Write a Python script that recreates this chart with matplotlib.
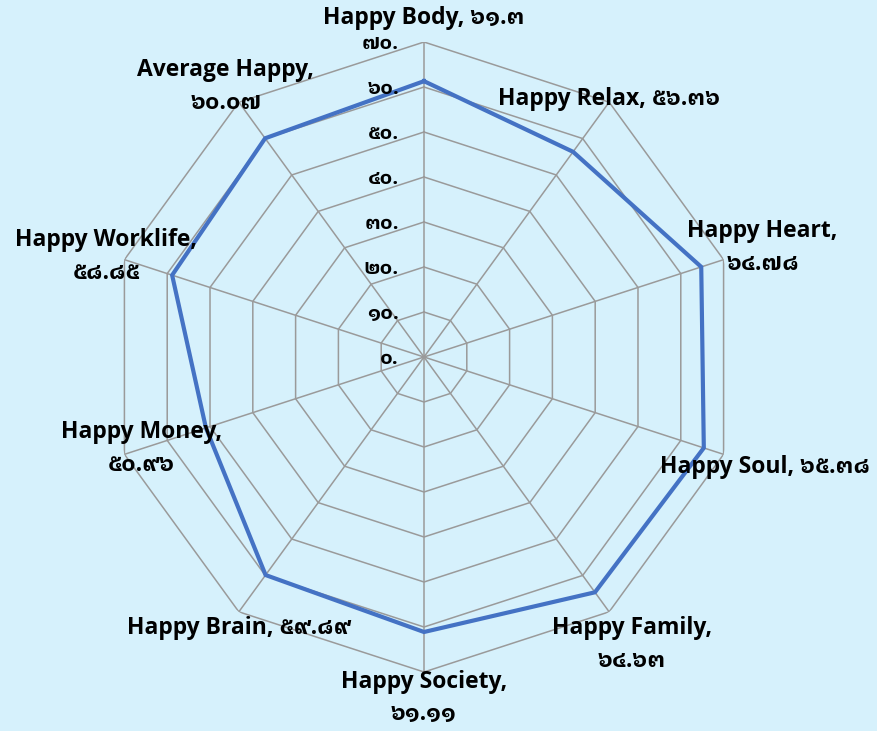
import matplotlib
matplotlib.use("Agg")
import matplotlib.pyplot as plt
import numpy as np

categories = ["Happy Body", "Happy Relax", "Happy Heart", "Happy Soul", "Happy Family",
              "Happy Society", "Happy Brain", "Happy Money", "Happy Worklife", "Average Happy"]
values = [61.3, 56.36, 64.78, 65.38, 64.63, 61.11, 59.89, 50.96, 58.85, 60.07]
ticks = [0, 10, 20, 30, 40, 50, 60, 70]
two_line = [False, False, True, False, True, True, False, True, True, True]

THAI = str.maketrans("0123456789", "๐๑๒๓๔๕๖๗๘๙")
def thai(s):
    return s.translate(THAI)

FONT = ["Open Sans", "IBM Plex Sans Thai Looped", "DejaVu Sans"]
BG = "#D6F1FC"
GRID = "#9A9A9A"
LINE = "#4472C4"

W, H = 878, 731
cx, cy, R = 424, 357, 315
fig = plt.figure(figsize=(W / 100, H / 100), dpi=100, facecolor=BG)
ax = fig.add_axes([(cx - R) / W, (H - cy - R) / H, 2 * R / W, 2 * R / H], projection="polar")
ax.set_facecolor("none")
ax.set_theta_zero_location("N")
ax.set_theta_direction(-1)
ax.set_ylim(0, ticks[-1])
ax.grid(False)
ax.spines["polar"].set_visible(False)
ax.set_xticks([])
ax.set_yticks([])

n = len(categories)
theta = np.arange(n) * 2 * np.pi / n
theta_c = np.append(theta, theta[0])

for r in ticks[1:]:
    ax.plot(theta_c, [r] * (n + 1), color=GRID, lw=1.1, zorder=1)
for t in theta:
    ax.plot([t, t], [0, ticks[-1]], color=GRID, lw=1.1, zorder=1)

vals_c = values + values[:1]
ax.plot(theta_c, vals_c, color=LINE, lw=3, zorder=3, solid_joinstyle="miter")

for r in ticks:
    ax.annotate(thai(f"{r}."), xy=(0, r), xytext=(-25, -2), textcoords="offset pixels",
                ha="right", va="center", fontsize=14.5, fontweight="bold",
                family=FONT, color="#000000", zorder=4)

offsets = [(0, 24), (0, 3), (39, 12), (41, -13), (23, -33),
           (0, -26), (0, -16), (17, 6), (-18, 3), (-13, 16)]
for i, (cat, v) in enumerate(zip(categories, values)):
    sep = "\n" if two_line[i] else " "
    txt = f"{cat},{sep}{thai(str(v))}"
    ax.annotate(txt, xy=(theta[i], ticks[-1]), xytext=offsets[i], textcoords="offset pixels",
                ha="center", va="center", multialignment="center", linespacing=1.5,
                fontsize=16.5, fontweight="bold", family=FONT, color="#000000",
                annotation_clip=False, zorder=5)

fig.savefig("out.png", dpi=100, facecolor=BG)
